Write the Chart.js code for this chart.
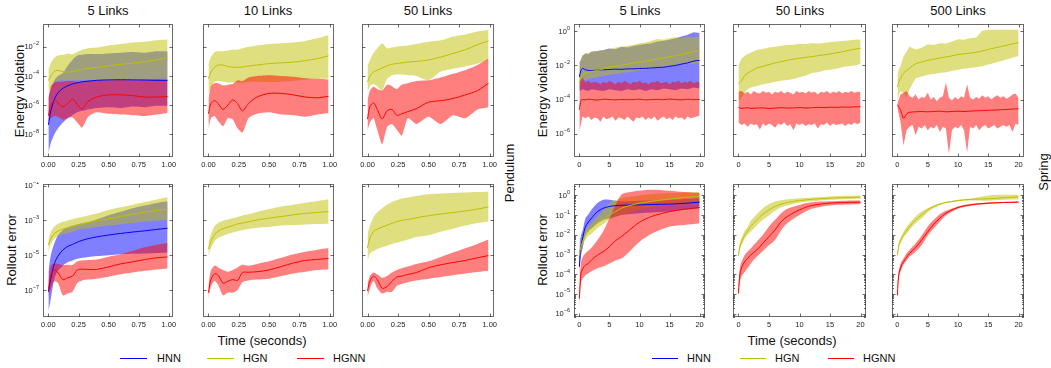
<!DOCTYPE html>
<html>
<head>
<meta charset="utf-8">
<script src="https://cdn.jsdelivr.net/npm/chart.js@4.4.1/dist/chart.umd.min.js"></script>
<style>
  body { margin: 0; width: 1051px; height: 368px; background: #fff; position: relative; overflow: hidden;
         font-family: "Liberation Sans", Arial, sans-serif; color: #111; }
  .t { position: absolute; white-space: nowrap; font-size: 13px; transform: translate(-50%, -50%); }
  .r { transform: translate(-50%, -50%) rotate(-90deg); }
  .lg { position: absolute; white-space: nowrap; font-size: 11px; transform: translateY(-50%); }
  .key { position: absolute; height: 0; border-top: 1.3px solid; }
  canvas { position: absolute; }
</style>
</head>
<body>
<!-- column titles -->
<div class="t" style="left:108px;top:10px">5 Links</div>
<div class="t" style="left:268px;top:10px">10 Links</div>
<div class="t" style="left:428px;top:10px">50 Links</div>
<div class="t" style="left:640px;top:10px">5 Links</div>
<div class="t" style="left:800px;top:10px">50 Links</div>
<div class="t" style="left:958px;top:10px">500 Links</div>
<!-- axis labels -->
<div class="t r" style="left:19px;top:91px">Energy violation</div>
<div class="t r" style="left:11px;top:250px">Rollout error</div>
<div class="t r" style="left:542px;top:91px">Energy violation</div>
<div class="t r" style="left:542px;top:250px">Rollout error</div>
<div class="t r" style="left:509px;top:173px">Pendulum</div>
<div class="t r" style="left:1043px;top:172px">Spring</div>
<div class="t" style="left:262px;top:340px">Time (seconds)</div>
<div class="t" style="left:792px;top:340px">Time (seconds)</div>
<!-- legends -->
<div class="key" style="left:120px;top:358px;width:27px;border-color:#0000ff"></div>
<div class="lg" style="left:157px;top:358px">HNN</div>
<div class="key" style="left:207px;top:358px;width:27px;border-color:#bfbf00"></div>
<div class="lg" style="left:243px;top:358px">HGN</div>
<div class="key" style="left:297px;top:358px;width:27px;border-color:#ff0000"></div>
<div class="lg" style="left:333px;top:358px">HGNN</div>
<div class="key" style="left:652px;top:358px;width:26px;border-color:#0000ff"></div>
<div class="lg" style="left:687px;top:358px">HNN</div>
<div class="key" style="left:740px;top:358px;width:26px;border-color:#bfbf00"></div>
<div class="lg" style="left:775px;top:358px">HGN</div>
<div class="key" style="left:828px;top:358px;width:26px;border-color:#ff0000"></div>
<div class="lg" style="left:863px;top:358px">HGNN</div>

<script>
// all series values are log10 of the plotted quantity

// time grids
const penTime = [0, 0.02, 0.05, 0.08, 0.12, 0.16, 0.2, 0.24, 0.28, 0.33, 0.4, 0.5, 0.6, 0.7, 0.8, 0.9, 0.99];
const sprTimeE = [0, 0.25, 0.5, 1, 1.5, 2, 3, 4, 5, 6, 7, 8, 9, 10, 11, 12, 13, 14, 15, 16, 17, 18, 19, 20];
const sprTimeFine = [0, 0.5, 1, 1.5, 2, 2.5, 3, 3.5, 4, 4.5, 5, 5.5, 6, 6.5, 7, 7.5, 8, 8.5, 9, 9.5, 10,
                     10.5, 11, 11.5, 12, 12.5, 13, 13.5, 14, 14.5, 15, 15.5, 16, 16.5, 17, 17.5, 18, 18.5, 19, 19.5, 20];
const sprTimeR = [0, 0.1, 0.3, 0.6, 1, 1.5, 2, 3, 4, 5, 6, 7, 8, 10, 12, 15, 17.5, 20];

// tick labels
const penXTicks = [0, 0.25, 0.5, 0.75, 1];
const sprXTicks = [0, 5, 10, 15, 20];
const penEnergyTicks = [-2, -4, -6, -8];
const penRolloutTicks = [-1, -3, -5, -7];
const sprEnergyTicks = [0, -2, -4, -6];
const sprRolloutTicks = [0, -1, -2, -3, -4, -5, -6];

// Pendulum, 5 links, energy violation
const p5E_HNN_mid = [-7.36, -6.4, -5.6, -5.15, -4.85, -4.68, -4.55, -4.47, -4.4, -4.36, -4.3, -4.27, -4.26, -4.27, -4.28, -4.3, -4.3];
const p5E_HNN_hi = [-5.5, -4.9, -4.3, -4.0, -3.8, -3.3, -2.9, -2.6, -2.55, -2.5, -2.5, -2.45, -2.4, -2.35, -2.4, -2.3, -2.3];
const p5E_HNN_lo = [-9.3, -8.6, -8.0, -7.6, -7.2, -6.9, -6.7, -6.5, -6.4, -6.3, -6.2, -6.15, -6.2, -6.1, -6.15, -6.05, -6.05];
const p5E_HGN_mid = [-4.31, -4.0, -3.68, -3.62, -3.7, -3.73, -3.7, -3.62, -3.55, -3.5, -3.42, -3.3, -3.2, -3.12, -3.02, -2.9, -2.72];
const p5E_HGN_hi = [-3.6, -3.1, -2.75, -2.6, -2.55, -2.45, -2.5, -2.35, -2.2, -2.1, -2.05, -1.9, -1.8, -1.7, -1.65, -1.55, -1.5];
const p5E_HGN_lo = [-5.1, -4.8, -4.45, -4.35, -4.3, -4.32, -4.3, -4.3, -4.28, -4.27, -4.3, -4.3, -4.3, -4.28, -4.25, -4.2, -4.2];
const p5E_HGNN_mid = [-6.73, -6.0, -5.7, -5.85, -6.1, -5.9, -5.6, -5.95, -6.27, -5.75, -5.45, -5.3, -5.3, -5.35, -5.45, -5.45, -5.42];
const p5E_HGNN_hi = [-5.5, -4.7, -4.45, -4.4, -4.4, -4.35, -4.35, -4.4, -4.4, -4.35, -4.3, -4.3, -4.28, -4.3, -4.3, -4.25, -4.3];
const p5E_HGNN_lo = [-7.1, -6.9, -6.75, -6.8, -7.0, -6.9, -6.85, -7.2, -7.55, -6.8, -6.5, -6.6, -6.65, -6.7, -6.75, -6.65, -6.55];

// Pendulum, 10 links, energy violation
const p10E_HGN_mid = [-4.2, -3.75, -3.4, -3.25, -3.25, -3.35, -3.4, -3.4, -3.38, -3.32, -3.25, -3.15, -3.1, -3.05, -2.95, -2.8, -2.62];
const p10E_HGN_hi = [-3.15, -2.7, -2.35, -2.3, -2.3, -2.25, -2.2, -2.2, -2.1, -2.0, -1.9, -1.8, -1.75, -1.7, -1.6, -1.4, -1.2];
const p10E_HGN_lo = [-5.2, -4.8, -4.4, -4.35, -4.4, -4.45, -4.45, -4.45, -4.45, -4.4, -4.4, -4.42, -4.4, -4.35, -4.25, -4.2, -4.2];
const p10E_HGNN_mid = [-6.6, -5.9, -5.7, -5.9, -6.3, -6.0, -5.65, -5.9, -6.4, -5.9, -5.45, -5.2, -5.2, -5.3, -5.45, -5.5, -5.4];
const p10E_HGNN_hi = [-5.6, -4.7, -4.5, -4.5, -4.65, -4.6, -4.55, -4.3, -4.35, -4.1, -4.0, -3.95, -4.0, -4.05, -4.15, -4.2, -4.25];
const p10E_HGNN_lo = [-7.66, -6.9, -6.75, -7.1, -7.45, -6.9, -7.0, -7.6, -7.9, -6.9, -6.6, -6.5, -6.65, -6.7, -6.8, -6.65, -6.55];

// Pendulum, 50 links, energy violation
const p50E_HGN_mid = [-4.42, -4.0, -3.73, -3.6, -3.45, -3.3, -3.2, -3.15, -3.1, -3.05, -3.0, -2.9, -2.7, -2.45, -2.2, -1.85, -1.6];
const p50E_HGN_hi = [-3.27, -2.9, -2.4, -2.1, -1.75, -2.1, -2.05, -2.0, -1.95, -1.9, -1.8, -1.65, -1.55, -1.3, -1.15, -0.95, -0.85];
const p50E_HGN_lo = [-5.1, -4.7, -4.55, -4.7, -5.0, -4.2, -3.95, -3.9, -3.9, -3.95, -4.0, -4.3, -3.7, -3.5, -3.35, -3.15, -2.9];
const p50E_HGNN_mid = [-6.97, -6.1, -5.85, -6.3, -6.95, -6.4, -6.3, -6.7, -6.6, -6.45, -6.25, -5.8, -5.7, -5.55, -5.3, -5.0, -4.5];
const p50E_HGNN_hi = [-5.7, -5.0, -4.75, -4.9, -5.0, -4.6, -4.7, -4.9, -4.6, -4.5, -4.35, -4.3, -4.1, -3.85, -3.6, -3.25, -2.8];
const p50E_HGNN_lo = [-7.77, -7.2, -6.9, -7.7, -8.7, -7.5, -7.3, -7.7, -8.1, -6.9, -7.3, -6.8, -7.3, -6.7, -6.9, -6.3, -6.15];

// Pendulum, 5 links, rollout error
const p5R_HNN_mid = [-7.1, -6.33, -5.47, -5.05, -4.7, -4.5, -4.38, -4.25, -4.15, -4.05, -3.95, -3.84, -3.75, -3.67, -3.6, -3.52, -3.45];
const p5R_HNN_hi = [-5.95, -5.0, -4.3, -3.85, -3.55, -3.4, -3.3, -3.22, -3.17, -3.1, -2.95, -2.7, -2.5, -2.3, -2.15, -2.0, -1.9];
const p5R_HNN_lo = [-8.26, -7.5, -6.34, -5.9, -5.6, -5.4, -5.3, -5.2, -5.15, -5.1, -5.05, -5.0, -4.95, -4.92, -4.9, -4.87, -4.84];
const p5R_HGN_mid = [-4.41, -4.05, -3.75, -3.62, -3.5, -3.42, -3.35, -3.27, -3.2, -3.13, -3.03, -2.91, -2.78, -2.65, -2.53, -2.43, -2.34];
const p5R_HGN_hi = [-4.1, -3.65, -3.35, -3.2, -3.08, -3.0, -2.93, -2.87, -2.8, -2.72, -2.6, -2.4, -2.25, -2.1, -1.95, -1.8, -1.65];
const p5R_HGN_lo = [-4.84, -4.35, -4.05, -3.9, -3.8, -3.72, -3.65, -3.55, -3.5, -3.45, -3.38, -3.3, -3.22, -3.15, -3.08, -3.02, -2.97];
const p5R_HGNN_mid = [-7.0, -6.15, -5.85, -6.0, -6.4, -6.3, -6.2, -5.85, -5.8, -5.82, -5.82, -5.67, -5.5, -5.38, -5.25, -5.15, -5.1];
const p5R_HGNN_hi = [-6.5, -5.6, -5.47, -5.5, -5.57, -5.55, -5.57, -5.35, -5.3, -5.28, -5.25, -5.09, -4.95, -4.75, -4.55, -4.4, -4.3];
const p5R_HGNN_lo = [-7.39, -6.9, -6.5, -6.6, -7.3, -7.2, -7.1, -6.6, -6.45, -6.4, -6.35, -6.24, -6.1, -6.0, -5.9, -5.82, -5.76];

// Pendulum, 10 links, rollout error
const p10R_HGN_mid = [-4.64, -4.2, -3.82, -3.62, -3.48, -3.38, -3.3, -3.2, -3.15, -3.08, -2.98, -2.87, -2.78, -2.68, -2.6, -2.54, -2.49];
const p10R_HGN_hi = [-4.33, -3.8, -3.34, -3.15, -3.02, -2.95, -2.88, -2.8, -2.72, -2.65, -2.52, -2.35, -2.2, -2.1, -1.98, -1.88, -1.78];
const p10R_HGN_lo = [-5.02, -4.6, -4.2, -4.0, -3.88, -3.78, -3.7, -3.62, -3.56, -3.5, -3.42, -3.38, -3.3, -3.27, -3.23, -3.21, -3.19];
const p10R_HGNN_mid = [-7.15, -6.4, -6.07, -6.15, -6.6, -6.5, -6.4, -6.45, -6.0, -5.98, -5.95, -5.85, -5.65, -5.45, -5.3, -5.24, -5.19];
const p10R_HGNN_hi = [-6.68, -5.9, -5.6, -5.7, -5.85, -5.95, -5.85, -5.7, -5.55, -5.6, -5.5, -5.35, -5.15, -4.95, -4.8, -4.68, -4.58];
const p10R_HGNN_lo = [-7.53, -6.8, -6.48, -6.7, -7.3, -7.15, -7.15, -7.0, -6.55, -6.45, -6.4, -6.35, -6.2, -6.05, -5.95, -5.85, -5.82];

// Pendulum, 50 links, rollout error
const p50R_HGN_mid = [-4.58, -4.0, -3.63, -3.5, -3.38, -3.28, -3.17, -3.07, -3.0, -2.95, -2.85, -2.73, -2.63, -2.55, -2.46, -2.35, -2.23];
const p50R_HGN_hi = [-3.82, -3.3, -2.8, -2.55, -2.3, -2.1, -1.95, -1.85, -1.75, -1.68, -1.6, -1.5, -1.45, -1.42, -1.4, -1.37, -1.35];
const p50R_HGN_lo = [-5.34, -4.9, -4.76, -4.65, -4.55, -4.45, -4.35, -4.28, -4.2, -4.1, -3.95, -3.85, -3.65, -3.48, -3.3, -3.15, -3.06];
const p50R_HGNN_mid = [-7.05, -6.48, -6.2, -6.4, -6.9, -6.8, -6.5, -6.25, -6.2, -6.1, -6.0, -5.72, -5.55, -5.42, -5.3, -5.15, -5.02];
const p50R_HGNN_hi = [-6.68, -6.2, -5.99, -6.1, -6.3, -6.2, -5.99, -5.85, -5.75, -5.65, -5.5, -5.35, -5.1, -4.85, -4.6, -4.35, -4.1];
const p50R_HGNN_lo = [-7.43, -6.9, -6.48, -6.9, -7.2, -7.1, -7.1, -6.75, -6.65, -6.55, -6.45, -6.35, -6.25, -6.15, -6.05, -5.97, -5.9];

// Spring, 5 links, energy violation
const s5E_HNN_mid = [-2.67, -2.3, -2.18, -2.25, -2.3, -2.3, -2.28, -2.25, -2.24, -2.22, -2.23, -2.2, -2.2, -2.18, -2.17, -2.15, -2.12, -2.1, -2.05, -2.0, -1.92, -1.85, -1.75, -1.7];
const s5E_HNN_hi = [-1.8, -1.7, -1.45, -1.3, -1.35, -1.2, -1.15, -1.1, -1.0, -1.05, -0.9, -0.95, -0.85, -0.8, -0.75, -0.7, -0.6, -0.55, -0.5, -0.4, -0.3, -0.2, -0.05, -0.1];
const s5E_HNN_lo = [-3.5, -3.45, -3.4, -3.45, -3.5, -3.4, -3.45, -3.5, -3.4, -3.45, -3.5, -3.4, -3.45, -3.4, -3.5, -3.4, -3.45, -3.35, -3.4, -3.45, -3.35, -3.4, -3.3, -3.35];
const s5E_HGN_mid = [-3.0, -2.75, -2.57, -2.45, -2.4, -2.35, -2.3, -2.2, -2.1, -2.05, -2.0, -1.92, -1.85, -1.8, -1.75, -1.7, -1.62, -1.55, -1.5, -1.42, -1.35, -1.28, -1.2, -1.15];
const s5E_HGN_hi = [-2.0, -1.6, -1.4, -1.3, -1.25, -1.2, -1.15, -1.1, -1.05, -0.95, -0.9, -0.85, -0.8, -0.7, -0.65, -0.55, -0.45, -0.5, -0.4, -0.35, -0.4, -0.3, -0.35, -0.3];
const s5E_HGN_lo = [-3.45, -3.1, -2.9, -2.85, -2.8, -2.75, -2.7, -2.6, -2.55, -2.5, -2.45, -2.4, -2.35, -2.3, -2.25, -2.2, -2.15, -2.1, -2.05, -2.0, -1.95, -1.9, -1.9, -1.85];
const s5E_HGNN_mid = [-4.6, -4.05, -4.0, -4.02, -3.98, -4.0, -4.03, -3.98, -4.0, -4.02, -3.99, -4.01, -4.0, -3.98, -4.02, -4.0, -3.99, -4.01, -3.97, -4.0, -4.02, -3.98, -4.0, -4.0];
const s5E_HGNN_hi = [-3.0, -2.7, -3.0, -2.9, -3.05, -2.95, -3.0, -3.1, -2.95, -3.05, -2.9, -3.0, -3.1, -2.95, -3.05, -2.9, -3.0, -3.1, -2.95, -3.0,
                     -2.9, -3.05, -3.0, -3.1, -2.95, -3.0, -2.9, -3.05, -3.0, -2.95, -3.1, -2.95, -3.0, -2.9, -3.05, -2.95, -3.0, -2.9, -3.05, -2.95, -3.0];
const s5E_HGNN_lo = [-5.9, -5.0, -5.1, -5.0, -5.2, -5.05, -5.1, -5.3, -5.0, -5.15, -5.1, -5.0, -5.25, -5.05, -5.1, -5.2, -5.0, -5.15, -5.3, -5.05,
                     -5.1, -5.0, -5.2, -5.05, -5.15, -5.0, -5.25, -5.1, -5.0, -5.15, -5.05, -5.2, -5.0, -5.1, -5.05, -5.2, -5.0, -5.1, -5.05, -5.0, -4.95];

// Spring, 50 links, energy violation
const s50E_HGN_mid = [-3.05, -3.0, -2.9, -2.6, -2.45, -2.35, -2.15, -2.05, -1.95, -1.85, -1.78, -1.7, -1.63, -1.58, -1.53, -1.48, -1.43, -1.38, -1.33, -1.26, -1.2, -1.12, -1.05, -0.99];
const s50E_HGN_hi = [-2.0, -1.8, -1.6, -1.45, -1.33, -1.25, -1.1, -1.03, -0.95, -0.9, -0.85, -0.8, -0.78, -0.73, -0.75, -0.7, -0.72, -0.68, -0.63, -0.6, -0.57, -0.54, -0.5, -0.48];
const s50E_HGN_lo = [-4.1, -4.0, -3.9, -3.6, -3.4, -3.3, -3.2, -3.1, -3.05, -2.95, -2.9, -2.85, -2.8, -2.7, -2.6, -2.45, -2.4, -2.3, -2.25, -2.2, -2.1, -2.05, -2.0, -1.92];
const s50E_HGNN_mid = [-4.45, -4.5, -4.52, -4.5, -4.48, -4.52, -4.5, -4.49, -4.52, -4.5, -4.48, -4.5, -4.49, -4.47, -4.5, -4.48, -4.46, -4.47, -4.45, -4.46, -4.44, -4.45, -4.43, -4.42];
const s50E_HGNN_hi = [-3.55, -3.5, -3.65, -3.55, -3.7, -3.5, -3.6, -3.65, -3.5, -3.6, -3.55, -3.7, -3.55, -3.6, -3.5, -3.65, -3.55, -3.6, -3.7, -3.5,
                      -3.6, -3.55, -3.65, -3.5, -3.6, -3.55, -3.7, -3.55, -3.6, -3.5, -3.65, -3.55, -3.6, -3.5, -3.65, -3.55, -3.6, -3.5, -3.6, -3.55, -3.55];
const s50E_HGNN_lo = [-5.35, -5.5, -5.4, -5.6, -5.4, -5.5, -5.45, -5.75, -5.4, -5.55, -5.4, -5.5, -5.65, -5.4, -5.5, -5.35, -5.55, -5.45, -5.8, -5.4,
                      -5.5, -5.4, -5.55, -5.45, -5.5, -5.4, -5.7, -5.45, -5.5, -5.35, -5.55, -5.4, -5.5, -5.45, -5.4, -5.55, -5.4, -5.5, -5.35, -5.45, -5.35];

// Spring, 500 links, energy violation
const s500E_HGN_mid = [-3.26, -2.95, -2.76, -2.46, -2.3, -2.16, -1.9, -1.8, -1.7, -1.64, -1.56, -1.5, -1.44, -1.36, -1.32, -1.28, -1.22, -1.16, -1.06, -0.98, -0.9, -0.82, -0.74, -0.66];
const s500E_HGN_hi = [-2.56, -2.2, -2.06, -1.46, -1.2, -0.9, -1.06, -0.96, -0.76, -0.8, -0.7, -0.72, -0.6, -0.46, -0.5, -0.4, -0.36, 0.04, 0.1, 0.1, 0.1, 0.1, 0.1, 0.1];
const s500E_HGN_lo = [-4.1, -3.7, -3.5, -3.6, -3.9, -3.4, -2.75, -2.65, -2.55, -2.5, -2.45, -2.4, -2.32, -2.25, -2.2, -2.15, -2.1, -2.05, -1.95, -1.85, -1.75, -1.65, -1.55, -1.45];
const s500E_HGNN_mid = [-4.3, -4.45, -4.6, -5.1, -4.85, -4.75, -4.72, -4.7, -4.72, -4.7, -4.68, -4.72, -4.7, -4.68, -4.7, -4.68, -4.66, -4.65, -4.63, -4.62, -4.6, -4.58, -4.56, -4.54];
const s500E_HGNN_hi = [-4.2, -3.7, -3.6, -3.5, -3.8, -3.9, -3.7, -4.0, -3.85, -3.9, -3.6, -4.0, -3.85, -4.1, -3.9, -3.8, -3.0, -3.9, -4.05, -3.85,
                       -4.0, -3.8, -3.9, -3.1, -3.9, -4.0, -3.85, -3.95, -3.75, -3.9, -3.8, -4.0, -3.85, -3.75, -3.9, -3.8, -3.95, -3.85, -3.7, -3.65, -3.9];
const s500E_HGNN_lo = [-4.5, -5.3, -6.7, -5.8, -5.6, -5.5, -6.1, -5.6, -5.7, -5.5, -5.8, -5.6, -5.7, -5.5, -5.9, -5.6, -5.7, -7.2, -5.8, -5.6,
                       -5.7, -5.5, -5.8, -7.1, -5.6, -5.7, -5.5, -5.8, -5.6, -5.5, -5.7, -5.6, -5.5, -5.7, -5.6, -5.5, -5.6, -5.5, -5.9, -5.4, -5.5];

// Spring, 5 links, rollout error
const s5R_HNN_mid = [-3.62, -3.0, -2.5, -2.1, -1.58, -1.35, -1.16, -0.82, -0.65, -0.56, -0.52, -0.5, -0.49, -0.48, -0.46, -0.44, -0.4, -0.34];
const s5R_HNN_hi = [-2.7, -2.3, -2.0, -1.7, -1.16, -0.95, -0.73, -0.39, -0.22, -0.22, -0.27, -0.3, -0.3, -0.27, -0.26, -0.22, -0.18, -0.14];
const s5R_HNN_lo = [-4.47, -3.6, -3.0, -2.6, -2.01, -1.8, -1.67, -1.41, -1.25, -1.16, -1.07, -0.99, -0.95, -0.9, -0.87, -0.82, -0.73, -0.65];
const s5R_HGN_mid = [-3.03, -2.8, -2.55, -2.3, -2.01, -1.8, -1.67, -1.41, -1.2, -0.99, -0.82, -0.65, -0.55, -0.39, -0.3, -0.19, -0.1, -0.05];
const s5R_HGN_hi = [-2.77, -2.5, -2.3, -2.05, -1.75, -1.55, -1.4, -1.07, -0.75, -0.39, -0.25, -0.14, -0.08, 0.0, 0.07, 0.12, 0.15, 0.17];
const s5R_HGN_lo = [-3.28, -3.0, -2.8, -2.5, -2.26, -2.05, -1.95, -1.67, -1.45, -1.24, -1.1, -0.99, -0.9, -0.73, -0.6, -0.48, -0.4, -0.31];
const s5R_HGNN_mid = [-5.24, -4.56, -3.88, -3.7, -3.54, -3.45, -3.28, -3.03, -2.85, -2.6, -2.3, -2.09, -1.84, -1.36, -1.07, -0.82, -0.7, -0.61];
const s5R_HGNN_hi = [-4.73, -4.0, -3.37, -3.1, -2.94, -2.8, -2.65, -2.26, -1.8, -1.16, -0.48, 0.05, 0.15, 0.24, 0.29, 0.24, 0.17, 0.12];
const s5R_HGNN_lo = [-5.92, -5.0, -4.39, -4.2, -4.05, -3.95, -3.85, -3.7, -3.6, -3.45, -3.3, -3.2, -2.95, -2.35, -1.95, -1.58, -1.5, -1.41];

// Spring, 50 links, rollout error
const s50R_HGN_mid = [-3.06, -2.8, -2.52, -2.3, -2.01, -1.8, -1.58, -1.24, -0.95, -0.73, -0.56, -0.44, -0.36, -0.26, -0.2, -0.14, -0.11, -0.09];
const s50R_HGN_hi = [-2.94, -2.6, -2.3, -2.1, -1.8, -1.6, -1.29, -0.95, -0.65, -0.44, -0.31, -0.25, -0.2, -0.14, -0.1, -0.05, -0.02, 0.0];
const s50R_HGN_lo = [-3.2, -2.95, -2.65, -2.45, -2.21, -2.0, -1.84, -1.53, -1.24, -1.02, -0.78, -0.6, -0.51, -0.37, -0.3, -0.22, -0.19, -0.17];
const s50R_HGNN_mid = [-4.98, -4.39, -3.88, -3.6, -3.37, -3.2, -3.03, -2.77, -2.43, -2.09, -1.75, -1.33, -1.07, -0.73, -0.51, -0.39, -0.36, -0.34];
const s50R_HGNN_hi = [-4.9, -4.1, -3.54, -3.3, -3.03, -2.85, -2.69, -2.35, -2.0, -1.58, -1.24, -0.9, -0.68, -0.48, -0.35, -0.3, -0.27, -0.26];
const s50R_HGNN_lo = [-5.58, -4.8, -4.3, -4.05, -3.88, -3.7, -3.45, -3.11, -2.82, -2.52, -2.26, -1.75, -1.41, -0.99, -0.68, -0.51, -0.46, -0.43];

// Spring, 500 links, rollout error
const s500R_HGN_mid = [-3.03, -2.8, -2.43, -2.25, -2.01, -1.8, -1.58, -1.24, -0.99, -0.73, -0.56, -0.44, -0.36, -0.26, -0.2, -0.17, -0.12, -0.07];
const s500R_HGN_hi = [-2.89, -2.65, -2.3, -2.1, -1.84, -1.6, -1.41, -1.07, -0.82, -0.65, -0.51, -0.4, -0.33, -0.22, -0.17, 0.0, 0.03, 0.03];
const s500R_HGN_lo = [-3.16, -2.95, -2.55, -2.4, -2.14, -1.95, -1.75, -1.41, -1.16, -0.85, -0.65, -0.5, -0.4, -0.31, -0.26, -0.27, -0.22, -0.19];
const s500R_HGNN_mid = [-5.07, -4.39, -3.88, -3.6, -3.37, -3.15, -2.94, -2.65, -2.26, -1.84, -1.46, -1.16, -0.9, -0.61, -0.48, -0.39, -0.36, -0.34];
const s500R_HGNN_hi = [-4.9, -4.2, -3.7, -3.4, -3.2, -2.95, -2.77, -2.43, -2.04, -1.58, -1.24, -0.95, -0.78, -0.56, -0.44, -0.36, -0.33, -0.31];
const s500R_HGNN_lo = [-5.32, -4.6, -4.05, -3.8, -3.5, -3.3, -3.11, -2.86, -2.52, -2.04, -1.67, -1.33, -1.02, -0.68, -0.54, -0.44, -0.39, -0.37];

// ---- styling ----
const FONT = '"Liberation Sans", Arial, sans-serif';
const lineColor = { HNN: '#0000ff', HGN: '#bfbf00', HGNN: '#ff0000' };
const bandColor = { HNN: 'rgba(0,0,255,0.5)', HGN: 'rgba(191,191,0,0.5)', HGNN: 'rgba(255,0,0,0.5)' };
const bandOrder = { HNN: 30, HGN: 20, HGNN: 10 };
const lineOrder = { HNN: 2, HGN: 1, HGNN: 0 };
const PAD_L = 40, PAD_R = 12, PAD_T = 2, PAD_B = 16;

// inward ticks on all four sides, frame, and 10^n labels
const frameTicks = {
  id: 'frameTicks',
  afterDatasetsDraw(chart, args, o) {
    const { ctx, chartArea: a, scales: { x, y } } = chart;
    const line = (x1, y1, x2, y2) => { ctx.beginPath(); ctx.moveTo(x1, y1); ctx.lineTo(x2, y2); ctx.stroke(); };
    ctx.save();
    ctx.strokeStyle = '#6a6a6a';
    ctx.lineWidth = 1;
    ctx.strokeRect(a.left + 0.5, a.top + 0.5, a.right - a.left - 1, a.bottom - a.top - 1);
    ctx.strokeStyle = '#444';
    ctx.lineWidth = 0.8;
    for (const v of o.xTicks) {
      const px = Math.round(x.getPixelForValue(v)) + 0.5;
      line(px, a.bottom, px, a.bottom - 3.5);
      line(px, a.top, px, a.top + 3.5);
    }
    for (const e of o.yTicks) {
      const py = Math.round(y.getPixelForValue(Math.pow(10, e))) + 0.5;
      line(a.left, py, a.left + 3.5, py);
      line(a.right, py, a.right - 3.5, py);
    }
    if (o.minor) {
      for (let e = Math.floor(o.yRange[0]); e < o.yRange[1]; e++) {
        for (let k = 2; k <= 9; k++) {
          const lv = e + Math.log10(k);
          if (lv <= o.yRange[0] || lv >= o.yRange[1]) continue;
          const py = Math.round(y.getPixelForValue(Math.pow(10, lv))) + 0.5;
          line(a.left, py, a.left + 2, py);
          line(a.right, py, a.right - 2, py);
        }
      }
    }
    if (o.yLabels) {
      ctx.fillStyle = '#222';
      ctx.textAlign = 'left';
      ctx.textBaseline = 'middle';
      for (const e of o.yTicks) {
        const py = y.getPixelForValue(Math.pow(10, e));
        const exp = e === 0 ? '0' : '\u2212' + Math.abs(e);
        ctx.font = '5.5px ' + FONT;
        const ew = ctx.measureText(exp).width;
        ctx.font = '7.5px ' + FONT;
        const bw = ctx.measureText('10').width;
        const xr = a.left - 4;
        ctx.fillText('10', xr - ew - bw, py + 0.5);
        ctx.font = '5.5px ' + FONT;
        ctx.fillText(exp, xr - ew, py - 3);
      }
    }
    ctx.restore();
  }
};

function makePanel(p) {
  const [l, t, r, b] = p.box;
  const cv = document.createElement('canvas');
  cv.width = r - l + PAD_L + PAD_R;
  cv.height = b - t + PAD_T + PAD_B;
  cv.style.left = (l - PAD_L) + 'px';
  cv.style.top = (t - PAD_T) + 'px';
  document.body.appendChild(cv);

  const pts = (time, arr) => time.map((tx, i) => ({ x: tx, y: Math.pow(10, arr[i]) }));
  const datasets = [];
  for (const name of ['HNN', 'HGN', 'HGNN']) {
    const s = p.series[name];
    if (!s) continue;
    const bt = s.bandTime || p.time;
    // upper edge fills down to the next dataset (lower edge)
    datasets.push({ data: pts(bt, s.hi), fill: '+1', backgroundColor: bandColor[name], borderColor: 'transparent',
                    borderWidth: 0, pointRadius: 0, tension: p.bandTension, order: bandOrder[name] });
    datasets.push({ data: pts(bt, s.lo), fill: false, borderColor: 'transparent', borderWidth: 0,
                    pointRadius: 0, tension: p.bandTension, order: bandOrder[name] });
    datasets.push({ data: pts(p.time, s.mid), fill: false, borderColor: lineColor[name], borderWidth: 1,
                    pointRadius: 0, tension: 0.3, order: lineOrder[name] });
  }

  new Chart(cv, {
    type: 'line',
    data: { datasets },
    options: {
      responsive: false,
      animation: false,
      events: [],
      layout: { padding: { left: 0, top: PAD_T, right: PAD_R, bottom: 0 } },
      plugins: {
        legend: { display: false },
        tooltip: { enabled: false },
        frameTicks: { xTicks: p.xTicks, yTicks: p.yTicks, yRange: p.yRange, minor: p.minor, yLabels: p.yLabels }
      },
      scales: {
        x: {
          type: 'linear', min: p.xRange[0], max: p.xRange[1], bounds: 'data',
          grid: { display: false, drawTicks: false }, border: { display: false },
          ticks: { font: { size: 7.5, family: FONT }, color: '#222', padding: 3, maxRotation: 0, autoSkip: false,
                   callback: v => p.fmt(v) },
          afterBuildTicks: s => { s.ticks = p.xTicks.map(v => ({ value: v })); },
          afterFit: s => { s.height = PAD_B; }
        },
        y: {
          type: 'logarithmic', min: Math.pow(10, p.yRange[0]), max: Math.pow(10, p.yRange[1]), bounds: 'data',
          grid: { display: false, drawTicks: false }, border: { display: false },
          ticks: { display: false },
          afterFit: s => { s.width = PAD_L; }
        }
      }
    },
    plugins: [frameTicks]
  });
}

const penFmt = v => v.toFixed(2);
const sprFmt = v => String(v);
const PEN_X = [-0.045, 1.035], SPR_X = [-0.9, 20.9];
const PEN_E = [-9.57, -0.43], PEN_R = [-8.55, -0.91], SPR_E = [-7.37, 0.43], SPR_R = [-6.17, 0.58];
const penCols = [[43, 173], [203, 334], [362, 494]];
const sprCols = [[574, 705], [733, 866], [892, 1024]];
const rowE = [24, 157], rowR = [184, 317];

const panels = [
  { col: penCols[0], row: rowE, time: penTime, xRange: PEN_X, xTicks: penXTicks, fmt: penFmt, yRange: PEN_E, yTicks: penEnergyTicks, yLabels: true, bandTension: 0.2,
    series: { HNN: { mid: p5E_HNN_mid, hi: p5E_HNN_hi, lo: p5E_HNN_lo }, HGN: { mid: p5E_HGN_mid, hi: p5E_HGN_hi, lo: p5E_HGN_lo }, HGNN: { mid: p5E_HGNN_mid, hi: p5E_HGNN_hi, lo: p5E_HGNN_lo } } },
  { col: penCols[1], row: rowE, time: penTime, xRange: PEN_X, xTicks: penXTicks, fmt: penFmt, yRange: PEN_E, yTicks: penEnergyTicks, yLabels: false, bandTension: 0.2,
    series: { HGN: { mid: p10E_HGN_mid, hi: p10E_HGN_hi, lo: p10E_HGN_lo }, HGNN: { mid: p10E_HGNN_mid, hi: p10E_HGNN_hi, lo: p10E_HGNN_lo } } },
  { col: penCols[2], row: rowE, time: penTime, xRange: PEN_X, xTicks: penXTicks, fmt: penFmt, yRange: PEN_E, yTicks: penEnergyTicks, yLabels: false, bandTension: 0.2,
    series: { HGN: { mid: p50E_HGN_mid, hi: p50E_HGN_hi, lo: p50E_HGN_lo }, HGNN: { mid: p50E_HGNN_mid, hi: p50E_HGNN_hi, lo: p50E_HGNN_lo } } },
  { col: penCols[0], row: rowR, time: penTime, xRange: PEN_X, xTicks: penXTicks, fmt: penFmt, yRange: PEN_R, yTicks: penRolloutTicks, yLabels: true, bandTension: 0.3,
    series: { HNN: { mid: p5R_HNN_mid, hi: p5R_HNN_hi, lo: p5R_HNN_lo }, HGN: { mid: p5R_HGN_mid, hi: p5R_HGN_hi, lo: p5R_HGN_lo }, HGNN: { mid: p5R_HGNN_mid, hi: p5R_HGNN_hi, lo: p5R_HGNN_lo } } },
  { col: penCols[1], row: rowR, time: penTime, xRange: PEN_X, xTicks: penXTicks, fmt: penFmt, yRange: PEN_R, yTicks: penRolloutTicks, yLabels: false, bandTension: 0.3,
    series: { HGN: { mid: p10R_HGN_mid, hi: p10R_HGN_hi, lo: p10R_HGN_lo }, HGNN: { mid: p10R_HGNN_mid, hi: p10R_HGNN_hi, lo: p10R_HGNN_lo } } },
  { col: penCols[2], row: rowR, time: penTime, xRange: PEN_X, xTicks: penXTicks, fmt: penFmt, yRange: PEN_R, yTicks: penRolloutTicks, yLabels: false, bandTension: 0.3,
    series: { HGN: { mid: p50R_HGN_mid, hi: p50R_HGN_hi, lo: p50R_HGN_lo }, HGNN: { mid: p50R_HGNN_mid, hi: p50R_HGNN_hi, lo: p50R_HGNN_lo } } },
  { col: sprCols[0], row: rowE, time: sprTimeE, xRange: SPR_X, xTicks: sprXTicks, fmt: sprFmt, yRange: SPR_E, yTicks: sprEnergyTicks, yLabels: true, bandTension: 0,
    series: { HNN: { mid: s5E_HNN_mid, hi: s5E_HNN_hi, lo: s5E_HNN_lo }, HGN: { mid: s5E_HGN_mid, hi: s5E_HGN_hi, lo: s5E_HGN_lo },
              HGNN: { mid: s5E_HGNN_mid, hi: s5E_HGNN_hi, lo: s5E_HGNN_lo, bandTime: sprTimeFine } } },
  { col: sprCols[1], row: rowE, time: sprTimeE, xRange: SPR_X, xTicks: sprXTicks, fmt: sprFmt, yRange: SPR_E, yTicks: sprEnergyTicks, yLabels: false, bandTension: 0,
    series: { HGN: { mid: s50E_HGN_mid, hi: s50E_HGN_hi, lo: s50E_HGN_lo },
              HGNN: { mid: s50E_HGNN_mid, hi: s50E_HGNN_hi, lo: s50E_HGNN_lo, bandTime: sprTimeFine } } },
  { col: sprCols[2], row: rowE, time: sprTimeE, xRange: SPR_X, xTicks: sprXTicks, fmt: sprFmt, yRange: SPR_E, yTicks: sprEnergyTicks, yLabels: false, bandTension: 0,
    series: { HGN: { mid: s500E_HGN_mid, hi: s500E_HGN_hi, lo: s500E_HGN_lo },
              HGNN: { mid: s500E_HGNN_mid, hi: s500E_HGNN_hi, lo: s500E_HGNN_lo, bandTime: sprTimeFine } } },
  { col: sprCols[0], row: rowR, time: sprTimeR, xRange: SPR_X, xTicks: sprXTicks, fmt: sprFmt, yRange: SPR_R, yTicks: sprRolloutTicks, yLabels: true, minor: true, bandTension: 0.3,
    series: { HNN: { mid: s5R_HNN_mid, hi: s5R_HNN_hi, lo: s5R_HNN_lo }, HGN: { mid: s5R_HGN_mid, hi: s5R_HGN_hi, lo: s5R_HGN_lo }, HGNN: { mid: s5R_HGNN_mid, hi: s5R_HGNN_hi, lo: s5R_HGNN_lo } } },
  { col: sprCols[1], row: rowR, time: sprTimeR, xRange: SPR_X, xTicks: sprXTicks, fmt: sprFmt, yRange: SPR_R, yTicks: sprRolloutTicks, yLabels: false, minor: true, bandTension: 0.3,
    series: { HGN: { mid: s50R_HGN_mid, hi: s50R_HGN_hi, lo: s50R_HGN_lo }, HGNN: { mid: s50R_HGNN_mid, hi: s50R_HGNN_hi, lo: s50R_HGNN_lo } } },
  { col: sprCols[2], row: rowR, time: sprTimeR, xRange: SPR_X, xTicks: sprXTicks, fmt: sprFmt, yRange: SPR_R, yTicks: sprRolloutTicks, yLabels: false, minor: true, bandTension: 0.3,
    series: { HGN: { mid: s500R_HGN_mid, hi: s500R_HGN_hi, lo: s500R_HGN_lo }, HGNN: { mid: s500R_HGNN_mid, hi: s500R_HGNN_hi, lo: s500R_HGNN_lo } } }
];

for (const p of panels) {
  p.box = [p.col[0], p.row[0], p.col[1], p.row[1]];
  makePanel(p);
}
</script>
</body>
</html>
